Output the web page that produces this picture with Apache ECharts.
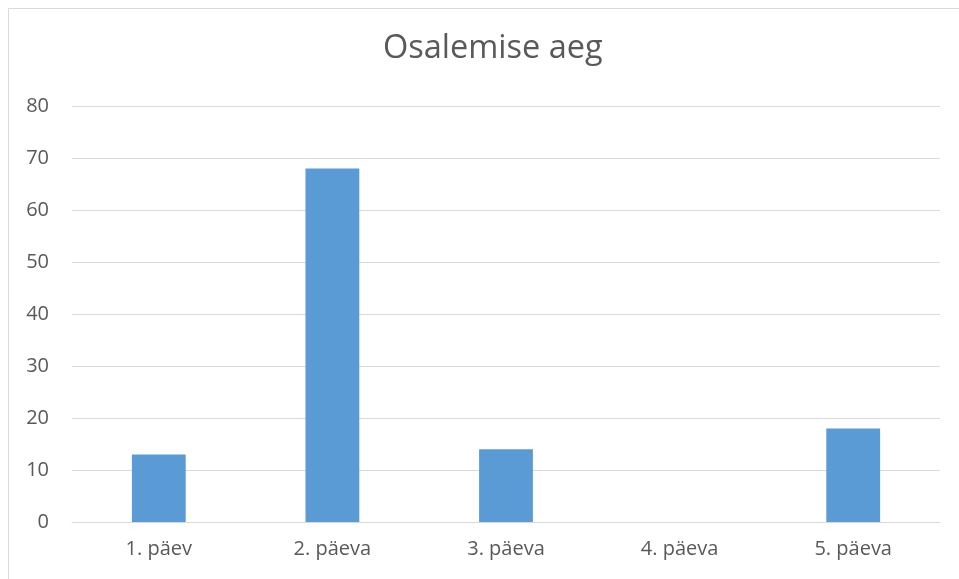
<!DOCTYPE html>
<html><head><meta charset="utf-8">
<script src="https://cdn.jsdelivr.net/npm/echarts@6/dist/echarts.min.js"></script>
<style>html,body{margin:0;padding:0;background:#fff}#c{width:959px;height:579px}</style>
</head><body><div id="c"></div>
<script>
const title = "Osalemise aeg";
const categories = ["1. päev", "2. päeva", "3. päeva", "4. päeva", "5. päeva"];
const values = [13, 68, 14, 0, 18];
const yTicks = {min: 0, max: 80, interval: 10};

const chart = echarts.init(document.getElementById('c'), null, {renderer: 'canvas'});
chart.setOption({
  animation: false,
  backgroundColor: '#ffffff',
  textStyle: {fontFamily: 'Open Sans, Liberation Sans, sans-serif'},
  graphic: [{type: 'rect', shape: {x: 8.5, y: 8.5, width: 1000, height: 1000},
    style: {fill: 'none', stroke: '#d9d9d9', lineWidth: 1}, silent: true}],
  title: {text: title, left: 378, top: 27,
    textStyle: {fontSize: 32.5, fontWeight: 'normal', color: '#595959', fontFamily: 'Open Sans, sans-serif'}},
  grid: {left: 72, right: 19, top: 106, bottom: 57, containLabel: false},
  xAxis: {type: 'category', data: categories,
    axisLine: {lineStyle: {color: '#d9d9d9', width: 1}},
    axisTick: {show: false},
    axisLabel: {color: '#595959', fontSize: 20, margin: 17}},
  yAxis: {type: 'value', min: yTicks.min, max: yTicks.max, interval: yTicks.interval,
    axisLine: {show: false}, axisTick: {show: false},
    splitLine: {lineStyle: {color: '#d9d9d9', width: 1}},
    axisLabel: {color: '#595959', fontSize: 20, margin: 23}},
  series: [{type: 'bar', data: values, barWidth: '31%',
    itemStyle: {color: '#5b9bd5'}}]
});
</script></body></html>
